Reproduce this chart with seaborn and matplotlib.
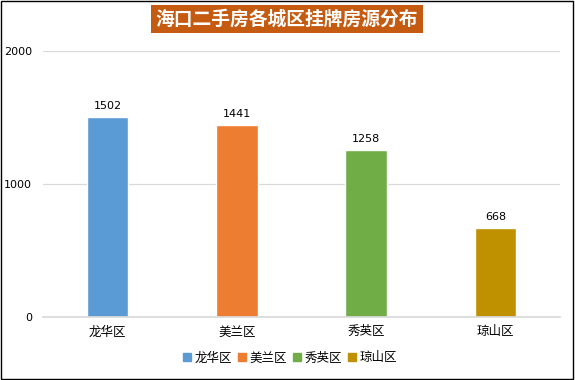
import matplotlib
matplotlib.use("Agg")
import matplotlib.pyplot as plt
import seaborn as sns
import pandas as pd
from matplotlib.patches import Rectangle

# data
districts = ["龙华区", "美兰区", "秀英区", "琼山区"]
listings = [1502, 1441, 1258, 668]
colors = ["#5B9BD5", "#ED7D31", "#70AD47", "#BF9000"]
yticks = [0, 1000, 2000]
title = "海口二手房各城区挂牌房源分布"

sns.set_theme(style="white")
plt.rcParams["font.family"] = ["Noto Sans CJK SC", "DejaVu Sans"]
plt.rcParams["text.color"] = "black"
plt.rcParams["xtick.color"] = "black"
plt.rcParams["ytick.color"] = "black"

df = pd.DataFrame({"district": districts, "count": listings})

fig = plt.figure(figsize=(5.75, 3.8), dpi=100)
ax = fig.add_axes([43 / 575, 1 - 317 / 380, (560 - 43) / 575, (317 - 51) / 380])

sns.barplot(data=df, x="district", y="count", hue="district", palette=colors,
            width=0.32, dodge=False, legend=False, ax=ax, saturation=1)

ax.set_ylim(0, 2000)
ax.set_yticks(yticks)
ax.set_yticklabels([str(t) for t in yticks], fontsize=8, family="DejaVu Sans")
ax.yaxis.grid(True, color="#D9D9D9", linewidth=0.9)
ax.set_axisbelow(True)
for s in ["top", "right", "left"]:
    ax.spines[s].set_visible(False)
ax.spines["bottom"].set_color("#D9D9D9")
ax.tick_params(axis="both", length=0, pad=8)
ax.tick_params(axis="x", labelsize=9, pad=6)
ax.set_xlabel("")
ax.set_ylabel("")

for i, v in enumerate(listings):
    ax.text(i, v + 45, str(v), ha="center", va="bottom", fontsize=8, family="DejaVu Sans")

# legend
handles = [Rectangle((0, 0), 1, 1, color=c) for c in colors]
fig.legend(handles, districts, loc="center", bbox_to_anchor=(290 / 575, 1 - 358 / 380),
           ncol=4, frameon=False, fontsize=9, handlelength=0.6, handleheight=0.6,
           handletextpad=0.3, columnspacing=0.5)

# title box
fig.text(287 / 575, 1 - 19 / 380, title, ha="center", va="center", fontsize=13.5,
         fontweight="bold", color="white",
         bbox=dict(boxstyle="square,pad=0.25", facecolor="#C55A11", edgecolor="none"))

# outer frame
fig.patches.append(Rectangle((0.001, 0.003), 0.996, 0.994, transform=fig.transFigure,
                             fill=False, edgecolor="black", linewidth=1.0))

fig.savefig("out.png", dpi=100)
